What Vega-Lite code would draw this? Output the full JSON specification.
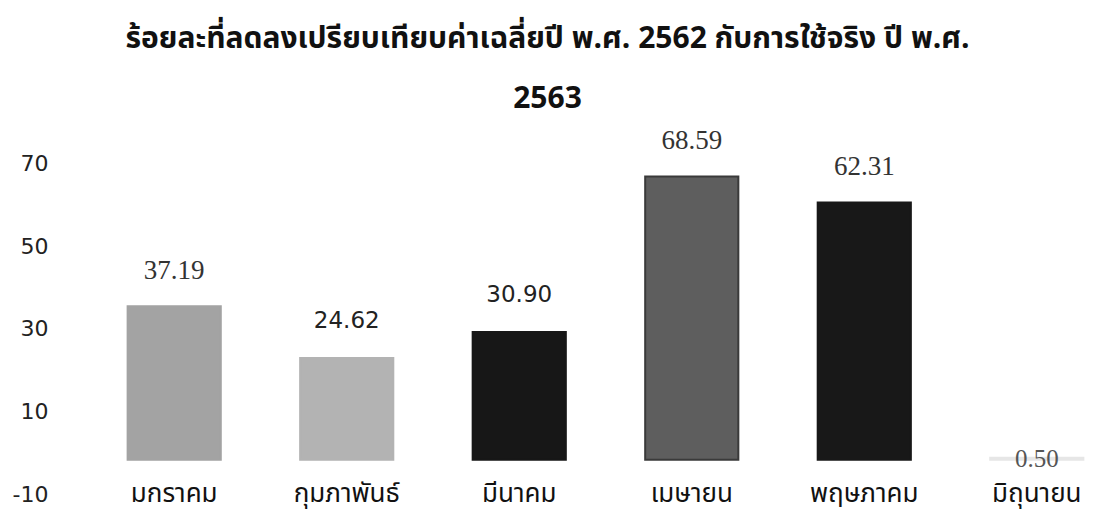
{
  "$schema": "https://vega.github.io/schema/vega-lite/v6.json",
  "width": 973,
  "height": 351,
  "autosize": {"type": "none"},
  "padding": {"left": 119, "top": 150, "right": 2, "bottom": 23},
  "background": "white",
  "view": {"stroke": null},
  "title": {
    "text": ["ร้อยละที่ลดลงเปรียบเทียบค่าเฉลี่ยปี พ.ศ. 2562 กับการใช้จริง ปี พ.ศ.", "2563"],
    "font": "Noto Sans Thai, Tahoma, Noto Sans, sans-serif",
    "fontSize": 30,
    "fontWeight": "bold",
    "color": "#111111",
    "anchor": "middle",
    "frame": "group",
    "dx": -58,
    "offset": 13,
    "lineHeight": 60
  },
  "data": {
    "values": [
      {"month": "มกราคม", "value": 37.19},
      {"month": "กุมภาพันธ์", "value": 24.62},
      {"month": "มีนาคม", "value": 30.90},
      {"month": "เมษายน", "value": 68.59},
      {"month": "พฤษภาคม", "value": 62.31},
      {"month": "มิถุนายน", "value": 0.50}
    ]
  },
  "encoding": {
    "x": {
      "field": "month",
      "type": "nominal",
      "sort": null,
      "scale": {"paddingInner": 0.46, "paddingOuter": 0.05},
      "axis": {
        "title": null,
        "domain": false,
        "ticks": false,
        "labelAngle": 0,
        "labelFont": "Noto Sans Thai, Tahoma, Noto Sans, sans-serif",
        "labelFontSize": 26,
        "labelColor": "#111111",
        "labelBaseline": "middle",
        "labelPadding": -8
      }
    },
    "y": {
      "field": "value",
      "type": "quantitative",
      "scale": {"domain": [-10, 75], "nice": false, "zero": false},
      "axis": {
        "title": null,
        "values": [70, 50, 30, 10, -10],
        "labelExpr": "replace(datum.label, '−', '-')",
        "grid": false,
        "domain": false,
        "ticks": false,
        "labelFont": "DejaVu Sans",
        "labelFontSize": 22,
        "labelColor": "#222222",
        "labelPadding": 71,
        "labelOffset": -7
      }
    }
  },
  "layer": [
    {
      "mark": {"type": "bar", "strokeWidth": 2},
      "encoding": {
        "color": {
          "field": "month",
          "type": "nominal",
          "scale": {
            "domain": ["มกราคม", "กุมภาพันธ์", "มีนาคม", "เมษายน", "พฤษภาคม", "มิถุนายน"],
            "range": ["#a3a3a3", "#b3b3b3", "#171717", "#5e5e5e", "#181818", "#d0d0d0"]
          },
          "legend": null
        },
        "stroke": {
          "field": "month",
          "type": "nominal",
          "scale": {
            "domain": ["มกราคม", "กุมภาพันธ์", "มีนาคม", "เมษายน", "พฤษภาคม", "มิถุนายน"],
            "range": ["#a3a3a3", "#b3b3b3", "#171717", "#3a3a3a", "#181818", "#e6e6e6"]
          },
          "legend": null
        }
      }
    },
    {
      "transform": [{"filter": {"field": "month", "oneOf": ["มกราคม", "เมษายน", "พฤษภาคม"]}}],
      "mark": {"type": "text", "font": "Liberation Serif", "fontSize": 27, "dy": -35, "baseline": "middle", "color": "#333333"},
      "encoding": {"text": {"field": "value", "type": "quantitative", "format": ".2f"}}
    },
    {
      "transform": [{"filter": {"field": "month", "oneOf": ["กุมภาพันธ์", "มีนาคม"]}}],
      "mark": {"type": "text", "font": "DejaVu Sans", "fontSize": 23, "dy": -37, "baseline": "middle", "color": "#222222"},
      "encoding": {"text": {"field": "value", "type": "quantitative", "format": ".2f"}}
    },
    {
      "transform": [{"filter": {"field": "month", "oneOf": ["มิถุนายน"]}}],
      "mark": {"type": "text", "font": "Liberation Serif", "fontSize": 25, "dy": 1, "baseline": "middle", "color": "#555555"},
      "encoding": {"text": {"field": "value", "type": "quantitative", "format": ".2f"}}
    }
  ]
}
